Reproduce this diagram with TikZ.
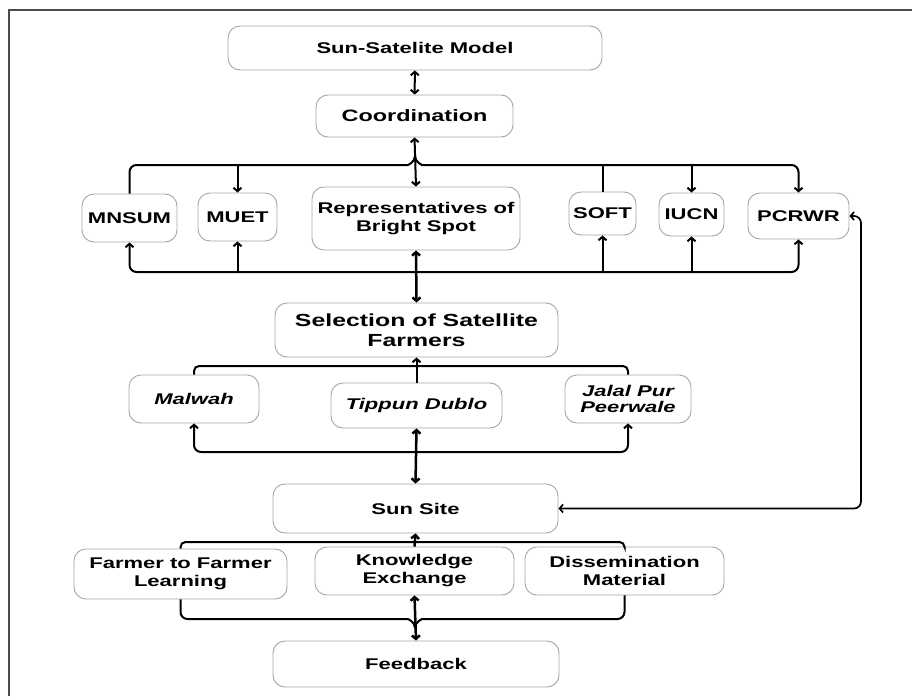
\documentclass[tikz,border=0pt]{standalone}
\usepackage{fontspec}
\setmainfont{Liberation Sans}[FakeStretch=1.42]
\usetikzlibrary{arrows.meta}

\begin{document}
\begin{tikzpicture}[
  x=1pt, y=-1pt,
  box/.style={draw=gray!70, line width=0.9pt, rounded corners=12pt, fill=white, align=center, inner sep=0pt,
    font=\fontsize{15.5}{18}\selectfont\bfseries},
  ibox/.style={box, font=\fontsize{15.5}{16.5}\selectfont\bfseries\itshape},
  line/.style={line width=2pt, rounded corners=7pt},
  arr/.style={line, -{Straight Barb[length=3.5pt,width=8pt]}},
  dbl/.style={line, {Straight Barb[length=3.5pt,width=8pt]}-{Straight Barb[length=3.5pt,width=8pt]}},
  frame/.style={draw=black!70, line width=1.2pt},
]
\useasboundingbox (0,0) rectangle (912,696);
\draw[frame] (9,696) -- (9,10) -- (912,10);

% --- Top ---
\node[box, minimum width=374pt, minimum height=44pt] (ssm) at (415,48) {Sun-Satelite Model};
\node[box, minimum width=197pt, minimum height=42pt, font=\fontsize{16.5}{19}\selectfont\bfseries] (coord) at (414.5,116) {Coordination};

% --- Partners ---
\node[box, minimum width=95pt, minimum height=48pt] (mnsum) at (129.5,218) {MNSUM};
\node[box, minimum width=79pt, minimum height=48pt] (muet) at (237.5,217) {MUET};
\node[box, minimum width=208pt, minimum height=63pt] (rep) at (416,218.5) {Representatives of\\Bright Spot};
\node[box, minimum width=67pt, minimum height=43pt] (soft) at (602.5,213.5) {SOFT};
\node[box, minimum width=65pt, minimum height=43pt] (iucn) at (691.5,214.5) {IUCN};
\node[box, minimum width=101pt, minimum height=46pt] (pcrwr) at (798.5,216) {PCRWR};

% --- Satellite farmers ---
\node[box, minimum width=283pt, minimum height=54pt, font=\fontsize{17.5}{20}\selectfont\bfseries] (sel) at (416.5,330) {Selection of Satellite\\Farmers};
\node[ibox, minimum width=130pt, minimum height=48pt] (malwah) at (194,399) {Malwah};
\node[ibox, minimum width=171pt, minimum height=45pt] (tippun) at (416.5,405.5) {Tippun Dublo};
\node[ibox, minimum width=126pt, minimum height=48pt] (jalal) at (628,399) {Jalal Pur\\Peerwale};

% --- Sun site ---
\node[box, minimum width=285pt, minimum height=49pt] (sun) at (415.5,508.5) {Sun Site};
\node[box, minimum width=213pt, minimum height=50pt] (f2f) at (180.5,574) {Farmer to Farmer\\Learning};
\node[box, minimum width=199pt, minimum height=48pt] (know) at (414.5,571) {Knowledge\\Exchange};
\node[box, minimum width=199pt, minimum height=48pt] (diss) at (624.5,571) {Dissemination\\Material};
\node[box, minimum width=286pt, minimum height=46pt] (feed) at (416,664) {Feedback};

% --- Junctions ---
\coordinate (jTop) at (415,165);
\coordinate (jTopL) at (401,165);
\coordinate (jTopR) at (429,165);
\coordinate (jTopU) at (415,156);
\coordinate (jMid) at (415,272);
\coordinate (jSel) at (415,366);
\coordinate (jLow) at (415,452);
\coordinate (jSun) at (415,542);
\coordinate (jBotL) at (401,619);
\coordinate (jBotR) at (429,619);
\coordinate (jBotD) at (415,628);
\coordinate (rt) at (861,360);

% --- Edges ---
\draw[dbl] (ssm) -- (coord);
\draw[dbl] (coord.south) -- (rep.north);
\draw[line] (mnsum.north) |- (jTopL) to[out=0,in=-90] (jTopU);
\draw[arr] (jTopU) to[out=-90,in=180] (jTopR) -| (pcrwr.north);
\draw[arr] (muet.north |- jTop) -- (muet.north);
\draw[line] (soft.north |- jTop) -- (soft.north);
\draw[arr] (iucn.north |- jTop) -- (iucn.north);

\draw[arr] (jMid) -| (mnsum.south);
\draw[arr] (jMid) -| (pcrwr.south);
\draw[arr] (muet.south |- jMid) -- (muet.south);
\draw[arr] (soft.south |- jMid) -- (soft.south);
\draw[arr] (iucn.south |- jMid) -- (iucn.south);
\draw[line, line width=2.8pt, rounded corners=0pt] (jMid) -- (soft.south |- jMid);
\draw[dbl, line width=2.5pt] (rep.south) -- (sel.north);

\draw[line, rounded corners=5pt] (malwah.north) |- (jSel) -| (jalal.north);
\draw[arr] (tippun.north) -- (sel.south);
\draw[arr] (jLow) -| (malwah.south);
\draw[arr] (jLow) -| (jalal.south);
\draw[dbl, line width=2.5pt] (tippun.south) -- (sun.north);

\draw[line, rounded corners=5pt] (f2f.north) |- (jSun) -| (diss.north);
\draw[arr, line width=2.5pt] (know.north) -- (sun.south);
\draw[line] (f2f.south) |- (jBotL) to[out=0,in=90] (jBotD);
\draw[line] (jBotD) to[out=90,in=180] (jBotR) -| (diss.south);
\draw[dbl, line width=2.5pt] (know.south) -- (feed.north);

\draw[dbl, line width=1.7pt] (sun.east) -| (rt) |- (pcrwr.east);
\end{tikzpicture}
\end{document}
